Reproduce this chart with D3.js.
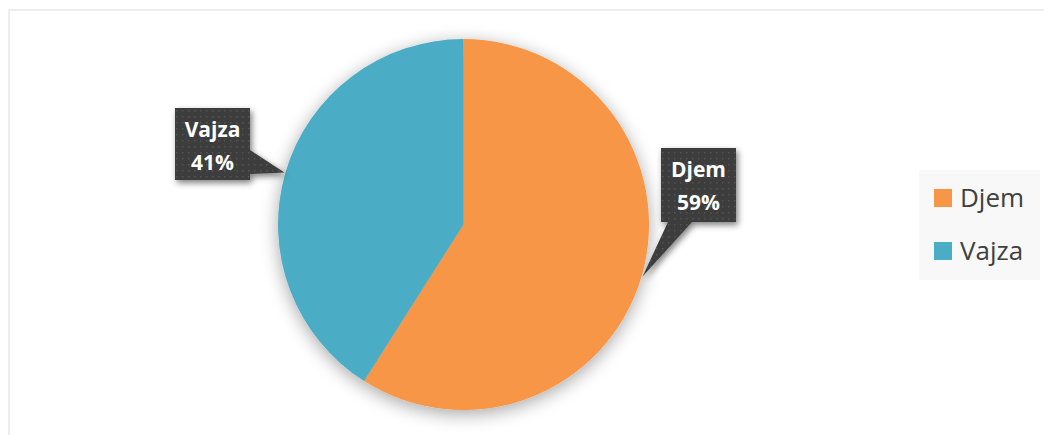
<!DOCTYPE html>
<html>
<head>
<meta charset="utf-8">
<script src="https://cdn.jsdelivr.net/npm/d3@7"></script>
<style>
  body { margin: 0; background: #fff; }
  text { font-family: "Open Sans", Lato, sans-serif; }
</style>
</head>
<body>
<div id="chart"></div>
<script>
const categories = ["Djem", "Vajza"];
const values = [59, 41];
const colors = ["#F79646", "#4BACC6"];

const W = 1044, H = 435;
const svg = d3.select("#chart").append("svg")
    .attr("width", W)
    .attr("height", H);

const defs = svg.append("defs");

// soft shadow round the pie
const f = defs.append("filter").attr("id", "glow")
    .attr("x", "-30%").attr("y", "-30%").attr("width", "160%").attr("height", "160%");
f.append("feGaussianBlur").attr("in", "SourceAlpha").attr("stdDeviation", 9).attr("result", "b");
f.append("feOffset").attr("in", "b").attr("dy", 4).attr("result", "o");
f.append("feComponentTransfer").attr("in", "o").attr("result", "s")
    .append("feFuncA").attr("type", "linear").attr("slope", 0.35);
const fm = f.append("feMerge");
fm.append("feMergeNode").attr("in", "s");
fm.append("feMergeNode").attr("in", "SourceGraphic");

const f2 = defs.append("filter").attr("id", "lshadow")
    .attr("x", "-30%").attr("y", "-30%").attr("width", "160%").attr("height", "160%");
f2.append("feGaussianBlur").attr("in", "SourceAlpha").attr("stdDeviation", 3).attr("result", "b");
f2.append("feOffset").attr("in", "b").attr("dx", 2).attr("dy", 3).attr("result", "o");
f2.append("feComponentTransfer").attr("in", "o").attr("result", "s")
    .append("feFuncA").attr("type", "linear").attr("slope", 0.5);
const fm2 = f2.append("feMerge");
fm2.append("feMergeNode").attr("in", "s");
fm2.append("feMergeNode").attr("in", "SourceGraphic");

// dotted texture for labels
const pat = defs.append("pattern").attr("id", "dots")
    .attr("width", 6).attr("height", 6).attr("patternUnits", "userSpaceOnUse");
pat.append("rect").attr("width", 6).attr("height", 6).attr("fill", "#3c3c3c");
pat.append("rect").attr("x", 2).attr("y", 2).attr("width", 1.5).attr("height", 1.5).attr("fill", "#555");

// chart area border
svg.append("rect")
    .attr("x", 9).attr("y", 10)
    .attr("width", W).attr("height", H)
    .attr("fill", "#fff")
    .attr("stroke", "#eeeeee")
    .attr("stroke-width", 2);

const cx = 463.5, cy = 224.5, r = 185.5;

const pie = d3.pie().sort(null).value(d => d.value);
const arcs = pie(categories.map((c, i) => ({ name: c, value: values[i], color: colors[i] })));
const arc = d3.arc().innerRadius(0).outerRadius(r);

const g = svg.append("g").attr("transform", `translate(${cx},${cy})`);
g.append("g").attr("filter", "url(#glow)")
    .selectAll("path")
    .data(arcs)
    .join("path")
    .attr("d", arc)
    .attr("fill", d => d.data.color);

// callout boxes; the pointer goes to the middle of each slice's edge
const labelBoxes = [
    { x: 661, y: 148, w: 75, h: 74, base: [668, 692], side: "bottom" },
    { x: 175, y: 108, w: 75, h: 72, base: [150, 174], side: "right" }
];

arcs.forEach((d, i) => {
    const b = labelBoxes[i];
    const a = (d.startAngle + d.endAngle) / 2;
    const tip = [cx + Math.sin(a) * (r + 1), cy - Math.cos(a) * (r + 1)];
    let p;
    if (b.side === "bottom") {
        p = [[b.x, b.y], [b.x + b.w, b.y], [b.x + b.w, b.y + b.h],
             [b.base[1], b.y + b.h], tip, [b.base[0], b.y + b.h], [b.x, b.y + b.h]];
    } else {
        p = [[b.x, b.y], [b.x + b.w, b.y], [b.x + b.w, b.base[0]], tip,
             [b.x + b.w, b.base[1]], [b.x + b.w, b.y + b.h], [b.x, b.y + b.h]];
    }
    const lg = svg.append("g");
    lg.append("path")
        .attr("d", d3.line()(p) + "Z")
        .attr("fill", "url(#dots)")
        .attr("filter", "url(#lshadow)");
    const tx = b.x + b.w / 2;
    lg.append("text")
        .attr("x", tx).attr("y", b.y + 29)
        .attr("text-anchor", "middle")
        .attr("fill", "#fff")
        .attr("font-weight", "bold")
        .attr("font-size", 21)
        .text(d.data.name);
    lg.append("text")
        .attr("x", tx).attr("y", b.y + 62)
        .attr("text-anchor", "middle")
        .attr("fill", "#fff")
        .attr("font-weight", "bold")
        .attr("font-size", 21)
        .text(Math.round(d.data.value) + "%");
});

// legend
const legend = svg.append("g");
legend.append("rect")
    .attr("x", 919).attr("y", 170)
    .attr("width", 121).attr("height", 110)
    .attr("fill", "#f8f8f8");
const ly = d3.scalePoint().domain(categories).range([198, 251]);
const items = legend.selectAll("g.item")
    .data(categories)
    .join("g")
    .attr("class", "item")
    .attr("transform", c => `translate(0,${ly(c)})`);
items.append("rect")
    .attr("x", 934).attr("y", -9)
    .attr("width", 18).attr("height", 18)
    .attr("fill", (c, i) => colors[i]);
items.append("text")
    .attr("x", 960).attr("y", 9)
    .attr("font-size", 26)
    .attr("fill", "#404040")
    .text(c => c);
</script>
</body>
</html>
